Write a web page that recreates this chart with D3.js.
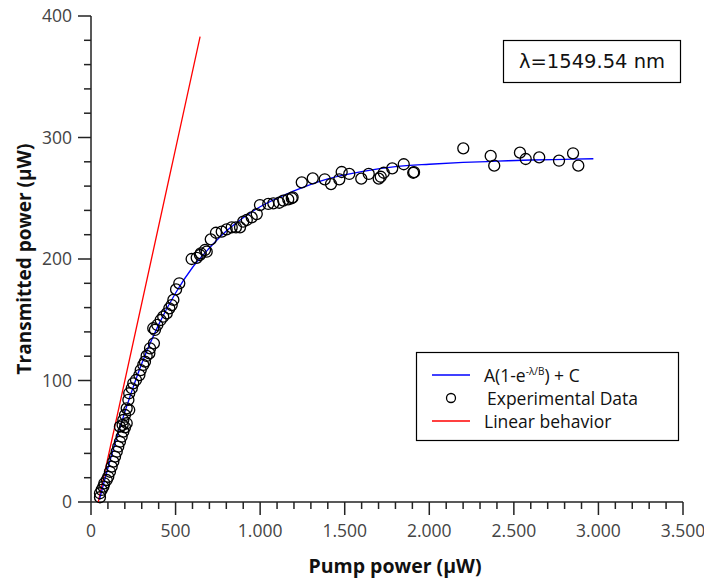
<!DOCTYPE html>
<html>
<head>
<meta charset="utf-8">
<script src="https://cdn.jsdelivr.net/npm/d3@7"></script>
<style>
  body { margin: 0; background: #fff; }
  text { font-family: "Open Sans", sans-serif; }
  .lg { font-family: "DejaVu Sans", sans-serif; }
</style>
</head>
<body>
<div id="chart"></div>
<script>
var expX = [53, 53, 63, 73, 79, 93, 102, 112, 122, 132, 142, 152, 161, 171, 181, 191, 201, 211,
    171, 187, 191, 201, 211, 226, 221, 226, 241, 250, 266, 286, 294, 309, 319, 329, 345, 349, 372, 378,
    368, 392, 412, 427, 448, 463, 477, 487, 503, 522, 595, 625, 644, 684,
    649, 674, 708, 739, 773, 802, 832, 857, 881, 900, 921, 950, 980, 999, 1048, 1078, 1113, 1137, 1166, 1192,
    1187, 1246, 1311, 1382, 1419, 1468, 1482, 1527, 1598, 1642, 1701, 1713, 1731, 1781, 1849, 1905, 1910,
    2201, 2363, 2384, 2536, 2570, 2650, 2767, 2850, 2881];
var expY = [3.9, 7.2, 9.9, 12.6, 15.4, 18.1, 20.8, 24.9, 29.1, 33.2, 37.3, 41.4, 45.5, 49.6, 53.7, 57.9, 61.5, 64.8,
    62, 63.4, 67.5, 71.6, 77.1, 75.7, 84, 89.5, 93.6, 97.7, 100.4, 104.5, 108.6, 112.8, 115.5, 120.2, 122.4, 126.5, 130.6, 141.6,
    143, 145.7, 149.8, 152.5, 155.3, 159.4, 162.1, 166.3, 175, 180, 200, 201, 203.3, 206,
    204.7, 207.4, 216.2, 221.6, 222.5, 224.4, 226.1, 226.1, 226.1, 230.7, 232.1, 234.3, 237, 244.4, 245.3, 245.8, 246.3, 248, 249.1, 250.8,
    250, 263.1, 266.4, 265.6, 261.7, 265.6, 271.6, 270, 266.1, 270, 266.1, 267.7, 271, 274.6, 278, 271, 271.5,
    291.1, 284.8, 276.8, 287.5, 282.3, 283.7, 280.9, 287, 276.8];

// Fitted curve A(1-e^(-x/B)) + C
var fitX = [50, 100, 150, 200, 300, 400, 500, 600, 700, 800, 900, 1000, 1200, 1400, 1600, 1800, 2000, 2200, 2400, 2600, 2800, 2970];
var fitY = [2, 28, 52, 74, 114, 146, 172, 193, 209, 223, 234, 243, 256, 266, 272, 276, 278, 279.5, 280.5, 281.5, 282, 282.5];

// Linear behavior (red line) end points
var linX = [43, 645];
var linY = [0, 383];

// Tick values
var xTicks = [0, 500, 1000, 1500, 2000, 2500, 3000, 3500];
var yTicks = [0, 100, 200, 300, 400];

var svgWidth = 704;
var svgHeight = 580;

var svg = d3.select("#chart")
    .append("svg")
    .attr("width", svgWidth)
    .attr("height", svgHeight);

// Scales
var xScale = d3.scaleLinear().domain([0, 3500]).range([91, 683]);
var yScale = d3.scaleLinear().domain([0, 400]).range([502, 16]);

var axisColor = "#222";
var labelColor = "#444";

// x axis: minor ticks every 100, major every 500
var xAxisG = svg.append("g").attr("transform", "translate(0,502)");
xAxisG.append("line")
    .attr("x1", xScale(0)).attr("x2", xScale(3500))
    .attr("stroke", axisColor).attr("stroke-width", 1.5);
xAxisG.selectAll(".minor")
    .data(d3.range(0, 3501, 100))
    .enter().append("line")
    .attr("x1", d => xScale(d)).attr("x2", d => xScale(d))
    .attr("y1", 0)
    .attr("y2", d => d % 500 === 0 ? 13 : 7)
    .attr("stroke", axisColor).attr("stroke-width", 1.5);
xAxisG.selectAll(".lbl")
    .data(xTicks)
    .enter().append("text")
    .attr("x", d => xScale(d))
    .attr("y", 35)
    .attr("text-anchor", "middle")
    .attr("fill", labelColor)
    .attr("font-size", 17.5)
    .text(d => d3.format(",")(d).replace(",", "."));

// y axis: minor ticks every 20, major every 100
var yAxisG = svg.append("g").attr("transform", "translate(91,0)");
yAxisG.append("line")
    .attr("y1", yScale(0)).attr("y2", yScale(400))
    .attr("stroke", axisColor).attr("stroke-width", 1.5);
yAxisG.selectAll(".minor")
    .data(d3.range(0, 401, 20))
    .enter().append("line")
    .attr("y1", d => yScale(d)).attr("y2", d => yScale(d))
    .attr("x1", 0)
    .attr("x2", d => d % 100 === 0 ? -13 : -7)
    .attr("stroke", axisColor).attr("stroke-width", 1.5);
yAxisG.selectAll(".lbl")
    .data(yTicks)
    .enter().append("text")
    .attr("x", -19)
    .attr("y", d => yScale(d))
    .attr("dy", "0.35em")
    .attr("text-anchor", "end")
    .attr("fill", labelColor)
    .attr("font-size", 17.5)
    .text(d => d);

// Axis titles
svg.append("text")
    .attr("x", 395)
    .attr("y", 573)
    .attr("text-anchor", "middle")
    .attr("font-size", 19.5)
    .attr("font-weight", "bold")
    .attr("fill", "#111")
    .text("Pump power (μW)");

svg.append("text")
    .attr("transform", "translate(31,259) rotate(-90)")
    .attr("text-anchor", "middle")
    .attr("font-size", 19)
    .attr("font-weight", "bold")
    .attr("fill", "#111")
    .text("Transmitted power (μW)");

// Linear behavior
var linLine = d3.line().x(d => xScale(d[0])).y(d => yScale(d[1]));
svg.append("path")
    .datum(d3.zip(linX, linY))
    .attr("d", linLine)
    .attr("fill", "none")
    .attr("stroke", "#ff0000")
    .attr("stroke-width", 1.3);

// Fit curve
var fitLine = d3.line()
    .x(d => xScale(d[0]))
    .y(d => yScale(d[1]))
    .curve(d3.curveMonotoneX);
svg.append("path")
    .datum(d3.zip(fitX, fitY))
    .attr("d", fitLine)
    .attr("fill", "none")
    .attr("stroke", "#0000ff")
    .attr("stroke-width", 1.3);

// Experimental points
svg.append("g")
    .selectAll("circle")
    .data(d3.zip(expX, expY))
    .enter().append("circle")
    .attr("cx", d => xScale(d[0]))
    .attr("cy", d => yScale(d[1]))
    .attr("r", 5.5)
    .attr("fill", "none")
    .attr("stroke", "#000")
    .attr("stroke-width", 1.3);

// Wavelength box
svg.append("rect")
    .attr("x", 503.5).attr("y", 40.5)
    .attr("width", 177).attr("height", 42)
    .attr("fill", "#fff")
    .attr("stroke", "#000").attr("stroke-width", 1.2);
svg.append("text")
    .attr("class", "lg")
    .attr("x", 592).attr("y", 68)
    .attr("text-anchor", "middle")
    .attr("font-size", 19.5)
    .attr("fill", "#111")
    .text("λ=1549.54 nm");

// Legend
var legend = svg.append("g").attr("class", "lg");
legend.append("rect")
    .attr("x", 416.5).attr("y", 352.5)
    .attr("width", 262).attr("height", 88)
    .attr("fill", "#fff")
    .attr("stroke", "#000").attr("stroke-width", 1.2);

legend.append("line")
    .attr("x1", 432).attr("x2", 470).attr("y1", 375).attr("y2", 375)
    .attr("stroke", "#0000ff").attr("stroke-width", 1.3);
var fitText = legend.append("text")
    .attr("x", 484).attr("y", 382)
    .attr("font-size", 17.5)
    .attr("fill", "#111");
fitText.append("tspan").text("A(1-e");
fitText.append("tspan").attr("font-size", 10).attr("dy", -7).text("-λ/B");
fitText.append("tspan").attr("dy", 7).text(") + C");

legend.append("circle")
    .attr("cx", 451).attr("cy", 398).attr("r", 4.5)
    .attr("fill", "none").attr("stroke", "#000").attr("stroke-width", 1.3);
legend.append("text")
    .attr("x", 487).attr("y", 405)
    .attr("font-size", 17.5)
    .attr("fill", "#111")
    .text("Experimental Data");

legend.append("line")
    .attr("x1", 432).attr("x2", 470).attr("y1", 421).attr("y2", 421)
    .attr("stroke", "#ff0000").attr("stroke-width", 1.3);
legend.append("text")
    .attr("x", 484).attr("y", 428)
    .attr("font-size", 17.5)
    .attr("fill", "#111")
    .text("Linear behavior");
</script>
</body>
</html>
